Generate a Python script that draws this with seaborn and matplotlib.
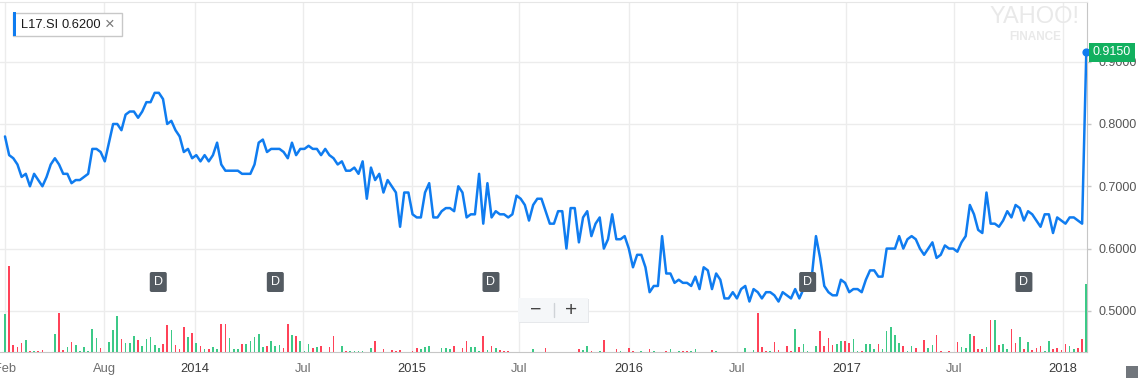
import pandas as pd
import matplotlib
matplotlib.use("Agg")
import matplotlib.pyplot as plt
import matplotlib.dates as mdates
import matplotlib.transforms as mtransforms
from matplotlib.patches import FancyBboxPatch, Rectangle
from matplotlib.lines import Line2D
import seaborn as sns

# weekly closes, L17.SI, Feb 2013 - Feb 2018
close = [
    0.780, 0.750, 0.745, 0.735, 0.715, 0.720, 0.700, 0.720, 0.710, 0.700,
    0.715, 0.735, 0.745, 0.735, 0.720, 0.720, 0.705, 0.710, 0.710, 0.715,
    0.720, 0.760, 0.760, 0.755, 0.740, 0.770, 0.800, 0.800, 0.790, 0.815,
    0.820, 0.820, 0.810, 0.820, 0.835, 0.835, 0.850, 0.850, 0.840, 0.800,
    0.805, 0.790, 0.780, 0.755, 0.760, 0.745, 0.750, 0.740, 0.750, 0.740,
    0.750, 0.770, 0.735, 0.725, 0.725, 0.725, 0.725, 0.720, 0.720, 0.720,
    0.735, 0.770, 0.775, 0.755, 0.760, 0.760, 0.760, 0.755, 0.745, 0.770,
    0.750, 0.760, 0.760, 0.765, 0.760, 0.760, 0.750, 0.760, 0.750, 0.745,
    0.735, 0.740, 0.725, 0.725, 0.730, 0.720, 0.740, 0.680, 0.730, 0.710,
    0.720, 0.690, 0.710, 0.700, 0.690, 0.635, 0.690, 0.690, 0.655, 0.650,
    0.650, 0.690, 0.705, 0.650, 0.650, 0.660, 0.665, 0.665, 0.660, 0.700,
    0.690, 0.650, 0.655, 0.655, 0.720, 0.640, 0.705, 0.650, 0.660, 0.655,
    0.655, 0.650, 0.655, 0.685, 0.680, 0.670, 0.645, 0.670, 0.680, 0.680,
    0.660, 0.640, 0.640, 0.660, 0.660, 0.600, 0.665, 0.665, 0.610, 0.650,
    0.660, 0.620, 0.640, 0.650, 0.600, 0.615, 0.655, 0.615, 0.615, 0.620,
    0.600, 0.570, 0.590, 0.590, 0.570, 0.530, 0.540, 0.540, 0.620, 0.560,
    0.560, 0.545, 0.550, 0.545, 0.545, 0.540, 0.555, 0.535, 0.570, 0.565,
    0.535, 0.560, 0.550, 0.520, 0.520, 0.530, 0.520, 0.535, 0.540, 0.515,
    0.535, 0.530, 0.520, 0.530, 0.530, 0.525, 0.515, 0.530, 0.525, 0.520,
    0.535, 0.520, 0.535, 0.535, 0.555, 0.620, 0.585, 0.540, 0.530, 0.525,
    0.525, 0.550, 0.545, 0.530, 0.535, 0.535, 0.530, 0.550, 0.565, 0.565,
    0.555, 0.555, 0.600, 0.600, 0.600, 0.620, 0.600, 0.615, 0.620, 0.615,
    0.600, 0.590, 0.600, 0.610, 0.585, 0.590, 0.605, 0.600, 0.600, 0.595,
    0.610, 0.620, 0.670, 0.655, 0.630, 0.625, 0.690, 0.640, 0.640, 0.635,
    0.645, 0.660, 0.650, 0.670, 0.665, 0.645, 0.660, 0.655, 0.645, 0.635,
    0.655, 0.655, 0.625, 0.650, 0.645, 0.640, 0.650, 0.650, 0.645, 0.640,
    0.915,
]

# weekly volume (100k shares), same weeks
volume = [
    38, 86, 7, 5, 9, 12, 1.3, 1, 1.3, 2,
    0, 0, 18, 39, 2.3, 5, 10, 7, 1.3, 5,
    1.3, 23, 14, 4, 0, 10, 22, 36, 13, 9,
    9, 16, 12, 6, 13, 15, 7, 4, 8, 27,
    22, 7, 3, 25, 15, 19, 9, 6, 3, 3,
    5, 3, 28, 28, 14, 3, 3, 8, 8, 11,
    15, 18, 5, 6, 11, 6, 7, 4, 28, 17,
    16, 11, 1, 8, 4, 5, 6, 0, 5, 16,
    0, 6, 1.3, 1, 1, 1, 1, 0, 4, 11,
    0, 3, 0, 2, 1.5, 2, 0, 0, 1.3, 4,
    3, 5, 6, 0, 0, 4, 4, 3, 6, 0,
    4, 11, 5, 5, 1.3, 16, 2, 6, 4, 2,
    1.3, 1.3, 0, 0, 0, 0, 0, 3.3, 0, 0,
    4, 0, 0, 0, 0, 0, 0, 0, 3, 2,
    6, 1.3, 0, 0.7, 12, 0, 0, 3, 1.3, 0,
    4, 1.3, 0, 0.7, 0, 3, 1.3, 0, 0, 1.3,
    3, 0, 1.3, 1.3, 1.3, 1.3, 3, 0, 0, 0,
    2, 0.7, 0, 0, 0, 0, 0, 0, 4, 0,
    2, 39, 5, 1.3, 1.3, 10, 2, 0, 6, 1.3,
    23, 5, 8, 1.3, 0, 6, 21, 6, 14, 7,
    8, 11, 11, 9, 13, 1.3, 1.3, 8, 8, 3,
    8, 3, 21, 25, 17, 9, 6, 1.3, 6, 4,
    0, 12, 4, 7, 17, 1.3, 0, 1.3, 0, 10,
    5, 4, 18, 16, 3, 3, 5, 32, 32, 7,
    8, 3, 23, 9, 15, 3, 10, 2, 4, 6,
    1.3, 11, 3, 4, 2, 8, 6, 3, 4, 13,
    68,
]

# G = up week, R = down week
direction = (
    "GRRRRGRGRR" "GGGRRGRGGG" "GGGRGGGGRG" "GGRGGGGGRR" "GRRRGRGRGR"
    "GGRRGGGRGG" "GGGRGGGRRG" "RGGGRGRGRR" "GGRGGGGGGR" "GRGRRRGGRR"
    "GGGGGGGGRG" "RRGGGRGRGR" "RRGGGGGGGG" "RGGGGGGGRG" "GRGGRGGRGG"
    "RRGGGRGGGR" "GGGRRGGGGG" "RGGGGGGGGG" "GRRRGRRGRR" "GRGGGGRRRR"
    "GGRRGGRGGG" "RGGGGGRGGR" "GRGGRRGRGR" "GGGRRRGRGR" "GGRRGRGRRR"
    "GGRRRRGGRR" "G"
)

start_date = "2013-02-15"
tick_dates = ["2013-02-15", "2013-08-01", "2014-01-01", "2014-07-01", "2015-01-01",
              "2015-07-01", "2016-01-01", "2016-07-01", "2017-01-01", "2017-07-01",
              "2018-01-01"]
tick_labels = ["Feb", "Aug", "2014", "Jul", "2015", "Jul", "2016", "Jul", "2017", "Jul", "2018"]
dividend_dates = ["2013-10-31", "2014-05-16", "2015-05-14", "2016-10-28", "2017-10-27"]
y_ticks = [0.5, 0.6, 0.7, 0.8, 0.9]

dates = pd.date_range(start_date, periods=len(close), freq="7D")
df = pd.DataFrame({"date": dates, "close": close, "volume": volume, "dir": list(direction)})

BLUE = "#0f7cf0"
GREEN = "#3cc987"
RED = "#ff4258"

sns.set_style("white")
plt.rcParams["font.family"] = ["Liberation Sans", "DejaVu Sans"]

W, H = 1138, 378
fig = plt.figure(figsize=(W / 100, H / 100), dpi=100)
fig.patch.set_facecolor("white")


def fx(px):
    return px / W


def fy(py):
    return 1 - py / H


ax = fig.add_axes([0, fy(352), fx(1087), 350 / H])
ax2 = ax.twinx()
ax.yaxis.tick_right()

ax.grid(True, color="#ececec", lw=1)
ax.set_axisbelow(True)
sns.lineplot(data=df, x="date", y="close", ax=ax, color=BLUE, lw=1.8, zorder=3)

bar_colors = [GREEN if d == "G" else RED for d in df["dir"]]
ax2.bar(df["date"], df["volume"], width=2.8, color=bar_colors, linewidth=0)
ax2.set_ylim(0, 4.07 * max(volume))
ax2.set_yticks([])
for s in ax2.spines.values():
    s.set_visible(False)

ax.set_xlim(dates[0] - pd.Timedelta(days=8.4), dates[-1] + pd.Timedelta(days=1.2))
ax.set_ylim(0.434, 0.9958)
ax.set_xlabel("")
ax.set_ylabel("")
ax.set_yticks(y_ticks)
ax.set_yticklabels([f"{v:.4f}" for v in y_ticks])
ax.set_xticks(pd.to_datetime(tick_dates))
ax.set_xticklabels(tick_labels)
for lbl in ax.get_xticklabels():
    lbl.set_color("#3a3a3a" if lbl.get_text().isdigit() else "#6e6e6e")

ax.tick_params(axis="x", length=5, width=1, color="#c6c6c6", pad=3, labelsize=9.3)
ax.tick_params(axis="y", length=3, width=1, color="#c6c6c6", pad=5, labelsize=9,
               labelcolor="#555555")
ax.spines["left"].set_visible(False)
ax.spines["top"].set_color("#e6e6e6")
ax.spines["right"].set_color("#c6c6c6")
ax.spines["bottom"].set_color("#c6c6c6")

# last price marker + badge
ax.scatter([dates[-1]], [close[-1]], s=24, color=BLUE, zorder=5, clip_on=False)
ax.annotate(f"{close[-1]:.4f}", xy=(dates[-1], close[-1]), xytext=(18.5, 0),
            textcoords="offset points", ha="center", va="center", color="white",
            fontsize=9, zorder=6, annotation_clip=False,
            bbox=dict(boxstyle="square,pad=0.3", fc="#12b05f", ec="none"))

# dividend markers
trans = mtransforms.blended_transform_factory(ax2.transData, ax2.transAxes)
for d in dividend_dates:
    ax2.text(mdates.date2num(pd.Timestamp(d)), 0.2, "D", transform=trans,
             ha="center", va="center", color="white", fontsize=9, zorder=6,
             bbox=dict(boxstyle="round,pad=0.32,rounding_size=0.15", fc="#545b62", ec="none"))

# legend chip
fig.add_artist(FancyBboxPatch((fx(13), fy(36)), fx(109), 23.5 / H, boxstyle="square,pad=0",
                              transform=fig.transFigure, fc="white", ec="#c8c8c8", lw=1))
fig.add_artist(Rectangle((fx(13), fy(36)), fx(3), 23.5 / H, transform=fig.transFigure,
                         fc=BLUE, ec="none"))
fig.text(fx(21.5), fy(24.5), "L17.SI", fontsize=9.3, color="#1a1a1a", va="center")
fig.text(fx(61), fy(24.5), "0.6200", fontsize=9.3, color="#1a1a1a", va="center")
fig.text(fx(109.5), fy(24.5), "×", fontsize=12, color="#777777", va="center", ha="center")

# watermark
fig.text(fx(1035), fy(17), "YAHOO!", fontsize=17, color="#e9e9e9", ha="center", va="center")
fig.text(fx(1035), fy(36.5), "FINANCE", fontsize=8.5, weight="bold", color="#e9e9e9",
         ha="center", va="center")

# zoom control
fig.add_artist(FancyBboxPatch((fx(518.5), fy(323)), fx(70), 24 / H, boxstyle="square,pad=0",
                              transform=fig.transFigure, fc="#e6e8eb", ec="none"))
fig.add_artist(FancyBboxPatch((fx(518), fy(322)), fx(70), 24 / H, boxstyle="square,pad=0",
                              transform=fig.transFigure, fc="#f5f7f9", ec="none"))
fig.add_artist(Line2D([fx(554), fx(554)], [fy(303), fy(317)], transform=fig.transFigure,
                      color="#cfd3d7", lw=1))
fig.text(fx(535.5), fy(310), "−", fontsize=14, color="#444444", ha="center", va="center")
fig.text(fx(571), fy(310), "+", fontsize=15, color="#444444", ha="center", va="center")

# corner button
fig.add_artist(FancyBboxPatch((fx(1125.5), fy(378)), fx(14), 12 / H, boxstyle="square,pad=0",
                              transform=fig.transFigure, fc="#71767c", ec="none"))

fig.savefig("out.png", dpi=100)
